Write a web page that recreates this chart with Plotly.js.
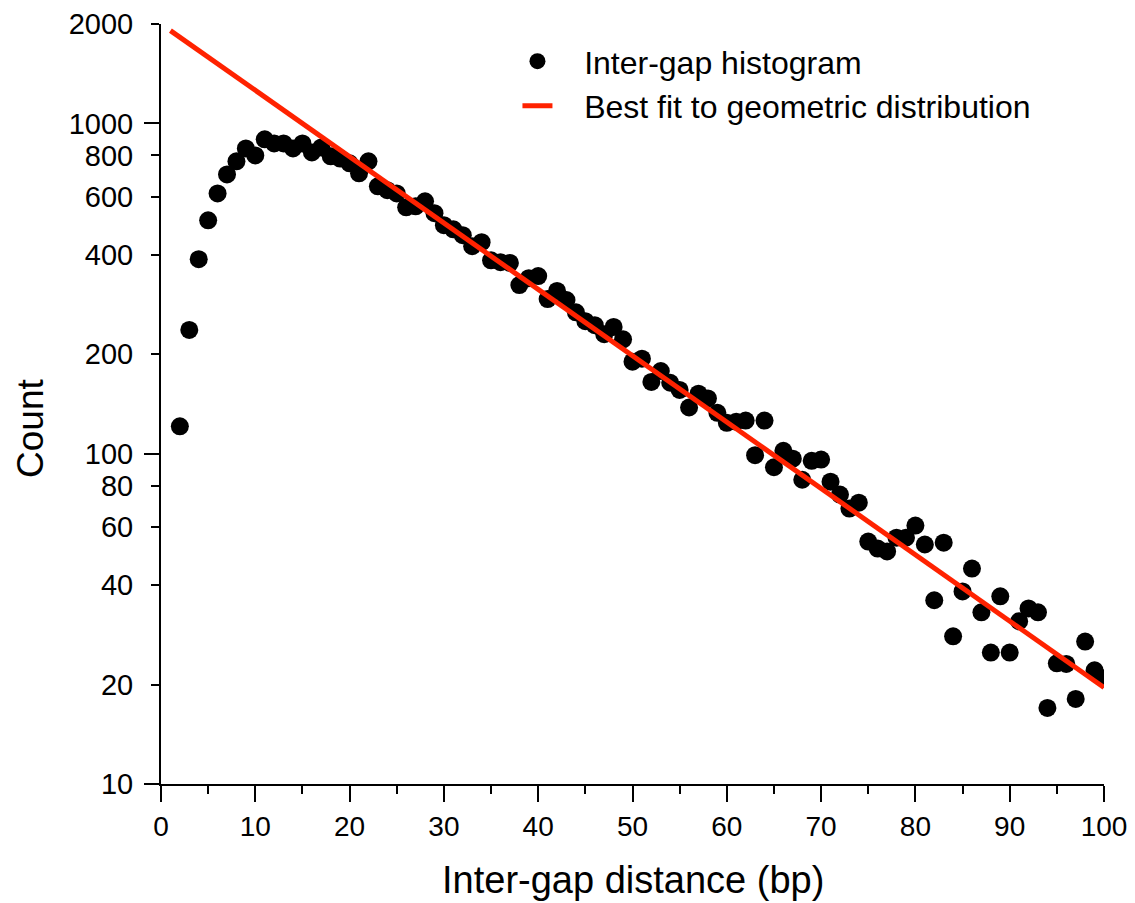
<!DOCTYPE html>
<html>
<head>
<meta charset="utf-8">
<script src="https://cdn.plot.ly/plotly-3.0.1.min.js"></script>
<style>html,body{margin:0;padding:0;background:#fff;}#chart{width:1135px;height:903px;}</style>
</head>
<body>
<div id="chart"></div>
<script>
// Inter-gap distance (bp)
var distance = [2,3,4,5,6,7,8,9,10,11,12,13,14,15,16,17,18,19,20,21,22,23,24,25,26,27,28,29,30,31,32,33,34,35,36,37,38,39,40,41,42,43,44,45,46,47,48,49,50,51,52,53,54,55,56,57,58,59,60,61,62,63,64,65,66,67,68,69,70,71,72,73,74,75,76,77,78,79,80,81,82,83,84,85,86,87,88,89,90,91,92,93,94,95,96,97,98,99,100];
// Histogram counts
var counts = [121,237,388,509,614,701,768,840,800,895,870,870,840,870,817,846,795,783,757,706,768,645,628,614,557,561,581,535,492,478,459,425,437,385,380,378,324,340,345,294,311,292,268,252,245,230,242,222,190,194,165,178,164,156,138,152,147,133,124,125,126,99,126,91,102,96.6,83.4,95.2,96,82.3,75.2,68.2,71.1,54.2,51.6,50.6,55.7,55.7,60.6,53.1,36.0,53.8,28.0,38.3,44.9,33.1,25.0,37.0,25.0,31.1,34.0,33.1,17.0,23.2,23.1,18.1,27.0,22.1,20.9];
// Best-fit geometric distribution (straight on log scale)
var fitX = [1, 100];
var fitY = [1910, 19.6];
// Series names
var seriesNames = ['Inter-gap histogram', 'Best fit to geometric distribution'];
// Tick labels
var xTickVals = [0,10,20,30,40,50,60,70,80,90,100];
var xMinorVals = [5,15,25,35,45,55,65,75,85,95];
var yTickVals = [10,20,40,60,80,100,200,400,600,800,1000,2000];
var yTickText = ['10','20','40','60','80','100','200','400','600','800','1000','2000'];
var yMajorVals = [10,100,1000];
var xTitle = 'Inter-gap distance (bp)';
var yTitle = 'Count';

var FONT = 'Liberation Sans, Arial, Helvetica, sans-serif';
var PAD = '\u00a0\u00a0\u00a0';

var traces = [
  {
    x: distance, y: counts, type: 'scatter', mode: 'markers',
    name: PAD + seriesNames[0],
    marker: {color: '#000000', size: 18, line: {width: 0}},
    cliponaxis: true
  },
  {
    x: fitX, y: fitY, type: 'scatter', mode: 'lines',
    name: PAD + seriesNames[1],
    line: {color: '#ff2200', width: 5},
    yaxis: 'y2'
  }
];

var yr = [1, Math.log10(2000)];

var layout = {
  width: 1135, height: 903,
  margin: {l: 161, r: 31, t: 24, b: 119},
  paper_bgcolor: '#ffffff', plot_bgcolor: '#ffffff',
  font: {family: FONT, color: '#000000'},
  showlegend: true,
  legend: {
    x: 0.378, y: 0.987, xanchor: 'left', yanchor: 'top',
    font: {family: FONT, size: 32, color: '#000'},
    bgcolor: 'rgba(0,0,0,0)', borderwidth: 0,
    tracegroupgap: 0
  },
  xaxis: {
    range: [0, 100], type: 'linear',
    showgrid: false, zeroline: false,
    showline: true, linecolor: '#000', linewidth: 2,
    ticks: 'outside', ticklen: 16, tickwidth: 2, tickcolor: '#000',
    tickvals: xTickVals,
    ticklabelstandoff: 0,
    tickfont: {family: FONT, size: 28, color: '#000'},
    minor: {tickvals: xMinorVals, ticks: 'outside', ticklen: 8, tickwidth: 2, tickcolor: '#000', showgrid: false},
    automargin: false, fixedrange: true
  },
  yaxis: {
    type: 'log', range: yr,
    showgrid: false, zeroline: false,
    showline: true, linecolor: '#000', linewidth: 2,
    ticks: 'outside', ticklen: 8, tickwidth: 2, tickcolor: '#000',
    tickvals: yTickVals, ticktext: yTickText,
    ticklabelstandoff: 12,
    tickfont: {family: FONT, size: 29, color: '#000'},
    automargin: false, fixedrange: true
  },
  yaxis2: {
    type: 'log', range: yr, overlaying: 'y', side: 'left',
    showgrid: false, zeroline: false, showline: false,
    ticks: 'outside', ticklen: 16, tickwidth: 2, tickcolor: '#000',
    tickvals: yMajorVals, showticklabels: false,
    automargin: false, fixedrange: true
  },
  annotations: [
    {text: xTitle, xref: 'paper', yref: 'paper', x: 0.5, y: (784 - 880) / 760,
     xanchor: 'center', yanchor: 'middle', showarrow: false,
     font: {family: FONT, size: 38, color: '#000'}},
    {text: yTitle, xref: 'paper', yref: 'paper', x: (30 - 161) / 943, y: (784 - 429) / 760,
     xanchor: 'center', yanchor: 'middle', showarrow: false, textangle: -90,
     font: {family: FONT, size: 37, color: '#000'}}
  ]
};

Plotly.newPlot('chart', traces, layout, {displayModeBar: false, staticPlot: true});
</script>
</body>
</html>
